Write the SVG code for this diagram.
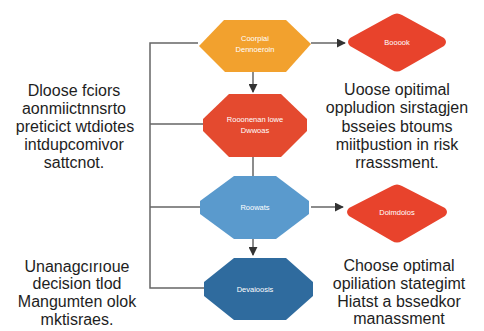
<svg xmlns="http://www.w3.org/2000/svg" width="484" height="331" viewBox="0 0 484 331">
<style>
.lbl{font-family:"Liberation Sans",Arial,sans-serif;font-size:16px;fill:#1e1e1e;text-anchor:middle}
.nl{font-family:"Liberation Sans",Arial,sans-serif;font-size:7.5px;fill:#fff;text-anchor:middle}
.c{stroke:#666;stroke-width:1.5;fill:none}
</style>
<defs>
<marker id="ah" viewBox="0 0 10 10" refX="9" refY="5" markerWidth="6" markerHeight="6" orient="auto"><path d="M0,0 L10,5 L0,10 z" fill="#333"/></marker>
</defs>
<rect width="484" height="331" fill="#fff"/>
<g id="connectors">
<path class="c" d="M198,43 H150 V288 H204 M150,124 H203 M150,207 H200"/>
<path class="c" d="M253,72 V92" marker-end="url(#ah)"/>
<path class="c" d="M253,157 V176"/>
<path class="c" d="M253,238 V255" marker-end="url(#ah)"/>
<path class="c" d="M311,43 H345" marker-end="url(#ah)"/>
<path class="c" d="M311,207 H343" marker-end="url(#ah)"/>
</g>
<g id="n1"><polygon points="199,46 224,20 286,20 311,44 286,72 225,72" fill="#F2A12E"/><text class="nl" x="255" y="41">Coorpiai</text><text class="nl" x="255" y="52">Dennoeroin</text></g>
<g id="n2"><polygon points="203,119 229,94 281,94 307,119 307,131 281,157 229,157 203,131" fill="#E44A2F"/><text class="nl" x="255" y="122">Rooonenan lowe</text><text class="nl" x="255" y="133">Dwwoas</text></g>
<g id="n3"><polygon points="200,201 234,176 276,176 309,201 309,214 276,239 234,239 200,214" fill="#5A9ACD"/><text class="nl" x="255" y="210">Roowats</text></g>
<g id="n4"><polygon points="204,282 234,258 286,258 313,282 313,296 286,320 234,320 204,296" fill="#2F6B9E"/><text class="nl" x="255" y="292">Devaioosis</text></g>
<g id="d1"><path d="M350,46 Q346,42 350,38 L392,15 Q397,12 402,15 L444,38 Q448,42 444,46 L402,70 Q397,73 392,70 Z" fill="#E8432C"/><text class="nl" x="397" y="45">Booook</text></g>
<g id="d2"><path d="M349,216 Q345,212 349,208 L392,186 Q397,183 402,186 L445,208 Q449,212 445,216 L402,241 Q397,244 392,241 Z" fill="#E8432C"/><text class="nl" x="397" y="215">Doimdoios</text></g>
<g id="t1">
<text class="lbl" x="74" y="96">Dloose fciors</text>
<text class="lbl" x="74" y="114">aonmiictnnsrto</text>
<text class="lbl" x="75" y="132">preticict wtdiotes</text>
<text class="lbl" x="74" y="150">intdupcomivor</text>
<text class="lbl" x="74" y="168">sattcnot.</text>
</g>
<g id="t2">
<text class="lbl" x="77" y="272">Unanagcırıoue</text>
<text class="lbl" x="77" y="289">decision tlod</text>
<text class="lbl" x="77" y="307">Mangumten olok</text>
<text class="lbl" x="77" y="325">mktisraes.</text>
</g>
<g id="t3">
<text class="lbl" x="397" y="95">Uoose opitimal</text>
<text class="lbl" x="397" y="113">oppludion sirstagjen</text>
<text class="lbl" x="397" y="132">bsseies btoums</text>
<text class="lbl" x="397" y="150">miitþustion in risk</text>
<text class="lbl" x="397" y="168">rrasssment.</text>
</g>
<g id="t4">
<text class="lbl" x="399" y="271">Choose optimal</text>
<text class="lbl" x="399" y="289">opiliation stategimt</text>
<text class="lbl" x="399" y="307">Hiatst a bssedkor</text>
<text class="lbl" x="399" y="324">manassment</text>
</g>
</svg>
